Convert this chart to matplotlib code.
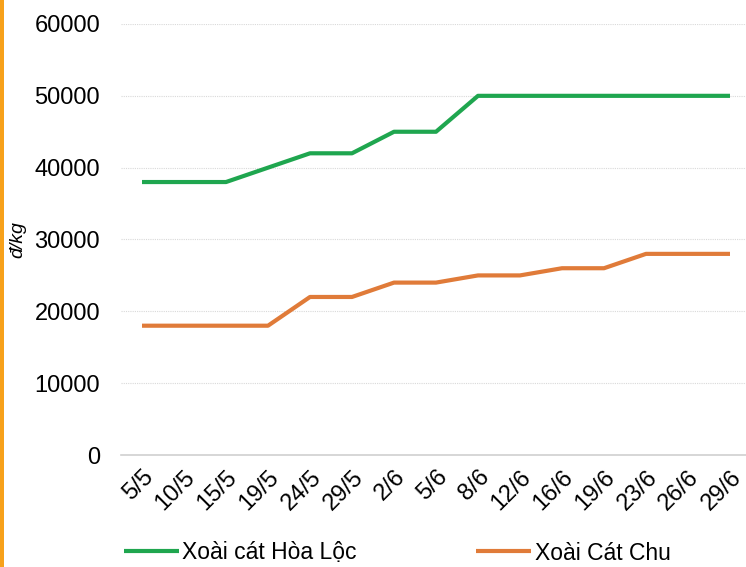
import matplotlib.pyplot as plt
from matplotlib.patches import Rectangle

# Giá xoài theo ngày (đ/kg)
ngay = ['5/5', '10/5', '15/5', '19/5', '24/5', '29/5', '2/6', '5/6', '8/6',
        '12/6', '16/6', '19/6', '23/6', '26/6', '29/6']
hoa_loc = [38000, 38000, 38000, 40000, 42000, 42000, 45000, 45000, 50000,
           50000, 50000, 50000, 50000, 50000, 50000]
cat_chu = [18000, 18000, 18000, 18000, 22000, 22000, 24000, 24000, 25000,
           25000, 26000, 26000, 28000, 28000, 28000]

plt.rcParams['font.family'] = ['Liberation Sans', 'DejaVu Sans']

fig = plt.figure(figsize=(7.46, 5.67), dpi=100, facecolor='w')
ax = fig.add_axes([121 / 746, 1 - 455 / 567, 630 / 746, 431 / 567])

x = range(len(ngay))
ax.plot(x, hoa_loc, color='#1fa64f', lw=3, solid_capstyle='butt',
        label='Xoài cát Hòa Lộc')
ax.plot(x, cat_chu, color='#e07b39', lw=3, solid_capstyle='butt',
        label='Xoài Cát Chu')

ax.set_xlim(-0.5, len(ngay) - 0.5)
ax.set_ylim(0, 60000)
ax.set_yticks(range(0, 60001, 10000))
ax.yaxis.grid(True, color='#d9d9d9', lw=0.8, ls=(0, (1, 1)))
ax.set_axisbelow(True)

for s in ['top', 'right', 'left']:
    ax.spines[s].set_visible(False)
ax.spines['bottom'].set_color('#d0d0d0')
ax.spines['bottom'].set_linewidth(1.2)

ax.tick_params(axis='both', length=0, labelsize=17, colors='black')
ax.tick_params(axis='y', pad=15)
ax.set_xticks(list(x))
ax.set_xticklabels(ngay, rotation=45, ha='right', rotation_mode='anchor')
ax.tick_params(axis='x', pad=8)

fig.text(18 / 746, 1 - 240 / 567, 'đ/kg', rotation=90, style='italic',
         fontsize=14, ha='center', va='center')

# vạch cam bên trái
fig.add_artist(Rectangle((0, 0), 4 / 746, 1, transform=fig.transFigure,
                         color='#f7a11a', lw=0))

fig.legend(loc='center left', bbox_to_anchor=(124 / 746, 1 - 553 / 567),
           ncol=2, frameon=False, fontsize=16.5, handlelength=2.4,
           handletextpad=0.15, columnspacing=5.2, borderpad=0,
           borderaxespad=0)

fig.savefig('out.png', dpi=100)
